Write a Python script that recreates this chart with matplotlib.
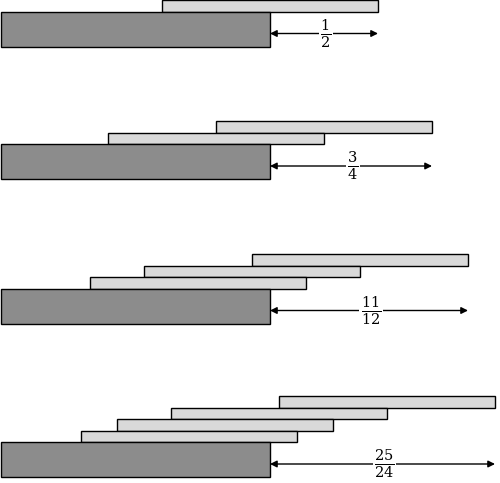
import matplotlib
matplotlib.use("Agg")
import matplotlib.pyplot as plt
from matplotlib.patches import Rectangle
from fractions import Fraction

# per-group overhang increments of stacked blocks (top block first), in block widths
increments = [
    [Fraction(1, 2)],
    [Fraction(1, 2), Fraction(1, 4)],
    [Fraction(1, 2), Fraction(1, 4), Fraction(1, 6)],
    [Fraction(1, 2), Fraction(1, 4), Fraction(1, 6), Fraction(1, 8)],
]
labels = [r"$\frac{1}{2}$", r"$\frac{3}{4}$", r"$\frac{11}{12}$", r"$\frac{25}{24}$"]

W = 216          # block width in px
edge = 270       # right edge of base block
lh = 11.5        # light block height
dh = 35          # dark block height
group_tops = [0, 121, 254, 396]

plt.rcParams["mathtext.fontset"] = "dejavuserif"
fig = plt.figure(figsize=(5, 4.83), dpi=100)
ax = fig.add_axes([0, 0, 1, 1])
ax.set_xlim(0, 500)
ax.set_ylim(483, 0)
ax.axis("off")

for inc, lab, top in zip(increments, labels, group_tops):
    n = len(inc)
    # right edges from bottom light block upward
    rights = []
    acc = Fraction(0)
    for d in reversed(inc):
        acc += d
        rights.append(acc)
    rights = rights[::-1]  # top first
    y = top
    for r in rights:
        x0 = edge + float(r) * W - W
        ax.add_patch(Rectangle((x0, y), W, lh, fc="#d9d9d9", ec="black", lw=1))
        y += lh
    ax.add_patch(Rectangle((1, y), edge - 1, dh, fc="#8c8c8c", ec="black", lw=1))
    ay = y + 22
    xend = edge + float(sum(inc)) * W
    ax.annotate("", xy=(xend, ay), xytext=(edge, ay),
                arrowprops=dict(arrowstyle="<|-|>", color="black", lw=1,
                                mutation_scale=10, shrinkA=0, shrinkB=0))
    ax.text((edge + xend) / 2 + 2, ay, lab, ha="center", va="center", fontsize=15,
            bbox=dict(fc="white", ec="none", pad=1))

fig.savefig("out.png", dpi=100)
